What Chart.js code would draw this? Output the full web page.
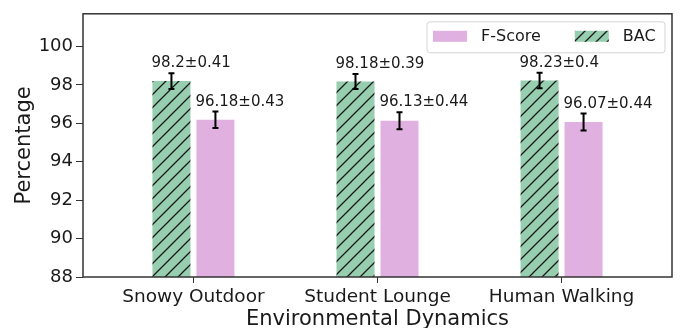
<!DOCTYPE html>
<html><head><meta charset="utf-8">
<script src="https://cdn.jsdelivr.net/npm/chart.js@4"></script>
<style>html,body{margin:0;padding:0;background:#fff}#wrap{width:683px;height:328px}</style>
</head><body><div id="wrap"><canvas id="c" width="683" height="328"></canvas></div>
<script>
const categories = ['Snowy Outdoor', 'Student Lounge', 'Human Walking'];
const bacValues = [98.2, 98.18, 98.23];
const bacErrors = [0.41, 0.39, 0.4];
const fscoreValues = [96.18, 96.13, 96.07];
const fscoreErrors = [0.43, 0.44, 0.44];
const yTickValues = [88, 90, 92, 94, 96, 98, 100];
const xTickValues = [0, 1, 2];

const FONT = "'DejaVu Sans', sans-serif";
const TEXT = '#1a1a1a';
const PINK = '#e0b0e0';
const GREEN = '#96ceaf';

function hatch(bg, size) {
  const c = document.createElement('canvas');
  c.width = size; c.height = size;
  const g = c.getContext('2d');
  g.fillStyle = bg; g.fillRect(0, 0, size, size);
  g.strokeStyle = '#1a1a1a'; g.lineWidth = 1.3;
  g.beginPath();
  g.moveTo(-2, size + 2); g.lineTo(size + 2, -2);
  g.moveTo(-2, 2); g.lineTo(2, -2);
  g.moveTo(size - 2, size + 2); g.lineTo(size + 2, size - 2);
  g.stroke();
  return g.createPattern(c, 'repeat');
}
const bacPattern = hatch(GREEN, 13);
const legendPattern = hatch(GREEN, 11);

const annot = {
  id: 'annot',
  afterDatasetsDraw(chart) {
    const ctx = chart.ctx, ys = chart.scales.y;
    chart.data.datasets.forEach((ds, di) => {
      const meta = chart.getDatasetMeta(di);
      meta.data.forEach((bar, i) => {
        const v = ds.data[i].y, e = ds.errors[i];
        const yt = ys.getPixelForValue(v + e), yb = ys.getPixelForValue(v - e);
        ctx.save();
        ctx.strokeStyle = '#000'; ctx.lineWidth = 2;
        ctx.beginPath();
        ctx.moveTo(bar.x, yt); ctx.lineTo(bar.x, yb);
        ctx.moveTo(bar.x - 3, yt); ctx.lineTo(bar.x + 3, yt);
        ctx.moveTo(bar.x - 3, yb); ctx.lineTo(bar.x + 3, yb);
        ctx.stroke();
        ctx.fillStyle = TEXT; ctx.font = '15px ' + FONT;
        ctx.textAlign = 'left'; ctx.textBaseline = 'alphabetic';
        ctx.fillText(v + '\u00b1' + e, bar.x - bar.width / 2 - 1, yt - 6);
        ctx.restore();
      });
    });
  },
  afterDraw(chart) {
    const ctx = chart.ctx, a = chart.chartArea;
    ctx.save();
    ctx.strokeStyle = '#333'; ctx.lineWidth = 1.5;
    ctx.strokeRect(a.left, a.top, a.right - a.left, a.bottom - a.top);
    // legend
    const bx = a.right - 245, by = a.top + 8, bw = 238, bh = 31, r = 3;
    ctx.beginPath();
    ctx.moveTo(bx + r, by); ctx.lineTo(bx + bw - r, by); ctx.quadraticCurveTo(bx + bw, by, bx + bw, by + r);
    ctx.lineTo(bx + bw, by + bh - r); ctx.quadraticCurveTo(bx + bw, by + bh, bx + bw - r, by + bh);
    ctx.lineTo(bx + r, by + bh); ctx.quadraticCurveTo(bx, by + bh, bx, by + bh - r);
    ctx.lineTo(bx, by + r); ctx.quadraticCurveTo(bx, by, bx + r, by);
    ctx.closePath();
    ctx.fillStyle = 'rgba(255,255,255,0.85)'; ctx.fill();
    ctx.strokeStyle = '#d4d4d4'; ctx.lineWidth = 1; ctx.stroke();
    ctx.font = '16px ' + FONT; ctx.textBaseline = 'middle'; ctx.textAlign = 'left';
    let x = bx + 6;
    const entries = chart.data.datasets.slice().reverse();
    entries.forEach(ds => {
      ctx.fillStyle = ds.label === 'BAC' ? legendPattern : ds.backgroundColor;
      ctx.fillRect(x, by + 9, 34, 11);
      ctx.fillStyle = TEXT;
      ctx.fillText(ds.label, x + 48, by + bh / 2);
      x = x + 48 + ctx.measureText(ds.label).width + 34;
    });
    ctx.restore();
  }
};

new Chart(document.getElementById('c'), {
  type: 'bar',
  data: {
    datasets: [
      { label: 'BAC', data: bacValues.map((v, i) => ({ x: i, y: v })), errors: bacErrors,
        backgroundColor: bacPattern, borderWidth: 0 },
      { label: 'F-Score', data: fscoreValues.map((v, i) => ({ x: i, y: v })), errors: fscoreErrors,
        backgroundColor: PINK, borderWidth: 0 }
    ]
  },
  options: {
    responsive: false,
    animation: false,
    devicePixelRatio: 1,
    categoryPercentage: 0.478,
    barPercentage: 0.864,
    layout: { padding: { top: 12, right: 11, left: 0, bottom: 0 } },
    plugins: { legend: { display: false }, tooltip: { enabled: false } },
    scales: {
      x: {
        type: 'linear', min: -0.6, max: 2.6, offset: false,
        afterBuildTicks: s => { s.ticks = xTickValues.map(v => ({ value: v })); },
        afterFit: s => { s.height = 51; },
        grid: { display: true, drawOnChartArea: false, drawTicks: true, tickLength: 6, color: '#333', offset: false },
        border: { display: false },
        ticks: { color: TEXT, font: { family: FONT, size: 18.5 }, padding: 3, maxRotation: 0, autoSkip: false,
          callback: v => categories[v] },
        title: { display: true, text: 'Environmental Dynamics', color: TEXT,
          font: { family: FONT, size: 21, lineHeight: 0.8 }, padding: { top: 0, bottom: 0 } }
      },
      y: {
        min: 88, max: 101.7,
        afterBuildTicks: s => { s.ticks = yTickValues.map(v => ({ value: v })); },
        afterFit: s => { s.width = 83; },
        grid: { display: true, drawOnChartArea: false, drawTicks: true, tickLength: 7, color: '#333' },
        border: { display: false },
        ticks: { color: TEXT, font: { family: FONT, size: 18 }, padding: 3 },
        title: { display: true, text: 'Percentage', color: TEXT,
          font: { family: FONT, size: 21, lineHeight: 0.8 }, padding: { top: 16, bottom: 0 } }
      }
    }
  },
  plugins: [annot]
});
</script>
</body></html>
